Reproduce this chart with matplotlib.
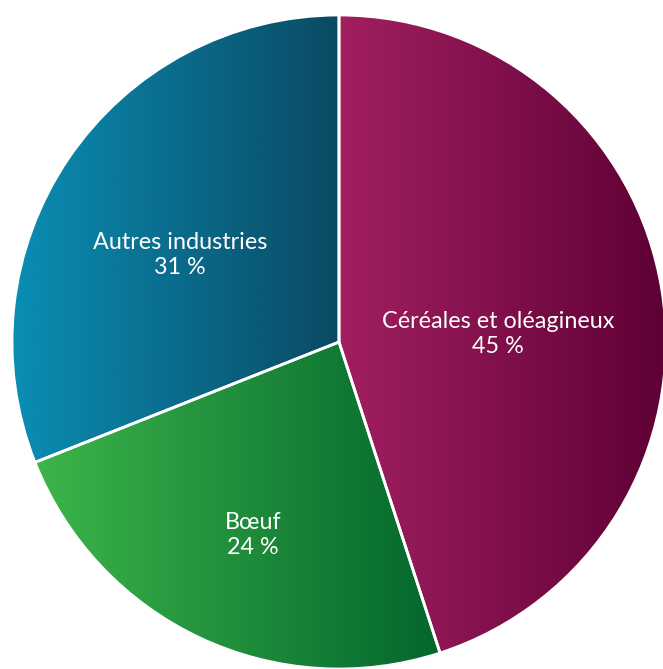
import numpy as np
import matplotlib
matplotlib.use("Agg")
import matplotlib.pyplot as plt
from matplotlib.colors import LinearSegmentedColormap

categories = ["Céréales et oléagineux", "Bœuf", "Autres industries"]
values = [45, 24, 31]
value_labels = ["45 %", "24 %", "31 %"]
grad_left = ["#a21f60", "#3db54a", "#0a8fb6"]
grad_right = ["#5c0034", "#03662d", "#0a4a63"]
label_pos = [(498, 334), (253, 535), (180, 255)]

W, H = 663, 669
fig = plt.figure(figsize=(W / 100, H / 100), dpi=100)
ax = fig.add_axes([0, 0, 1, 1])
cx, cy, r = 339, 342, 327

# y axis is inverted (pixel-like coords): start at -90 deg (top), counterclock in data = clockwise on screen
wedges, _ = ax.pie(values, startangle=-90, counterclock=True, center=(cx, cy), radius=r,
                   wedgeprops=dict(edgecolor="white", linewidth=2))
ax.set_xlim(0, W)
ax.set_ylim(H, 0)
ax.set_aspect("equal")
ax.axis("off")

for w, cl, cr in zip(wedges, grad_left, grad_right):
    w.set_facecolor("none")
    verts = w.get_path().vertices
    x0, x1 = verts[:, 0].min(), verts[:, 0].max()
    y0, y1 = verts[:, 1].min(), verts[:, 1].max()
    cmap = LinearSegmentedColormap.from_list("g", [cl, cr])
    grad = np.linspace(0, 1, 256).reshape(1, -1)
    im = ax.imshow(grad, cmap=cmap, extent=[x0, x1, y1, y0], aspect="auto", zorder=0.5,
                   interpolation="bicubic")
    im.set_clip_path(w)
    w.set_zorder(1)

for (x, y), cat, vl in zip(label_pos, categories, value_labels):
    ax.text(x, y, cat + "\n" + vl, ha="center", va="center", color="white", fontsize=16.8,
            family=["Lato", "DejaVu Sans"], linespacing=1.2, zorder=3)

ax.set_xlim(0, W)
ax.set_ylim(H, 0)
fig.savefig("out.png", dpi=100)
